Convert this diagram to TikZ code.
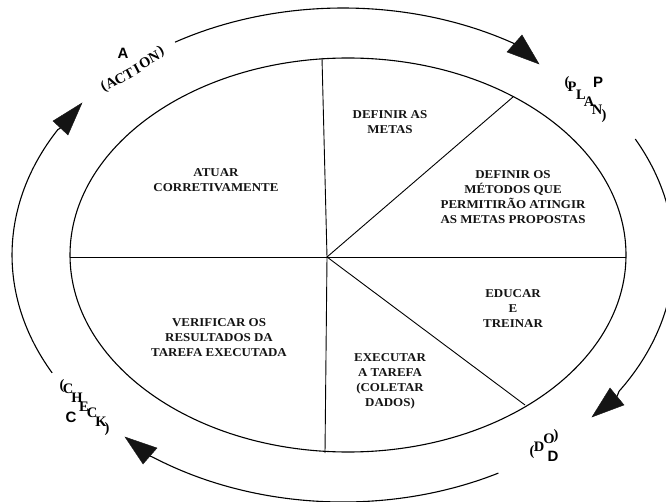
\documentclass[tikz,border=0pt]{standalone}
\usepackage{fontspec}
\setmainfont{Liberation Serif}
\setsansfont{Liberation Sans}
\newfontfamily\stagefont{Liberation Serif}[FakeStretch=1.08]
\usetikzlibrary{arrows.meta,calc}

\tikzset{
  wheel/.style={line width=1.1pt},
  spoke/.style={line width=0.9pt},
  cycleline/.style={line width=1.1pt},
  arrowhead/.style={fill=black!92, draw=black!92, line width=0.4pt, line join=miter},
  stage/.style={font=\stagefont\bfseries\fontsize{12}{15}\selectfont,
    align=center, inner sep=0pt, text=black!92},
  glyph/.style={font=\bfseries\fontsize{14.5}{14.5}\selectfont, inner sep=0pt},
  initial/.style={font=\sffamily\bfseries\fontsize{15}{15}\selectfont, inner sep=0pt},
}

\begin{document}
\begin{tikzpicture}[x=1pt,y=-1pt]
\useasboundingbox (0,0) rectangle (666,502);
\clip (0,0) rectangle (666,502);

% the wheel and its spokes
\draw[wheel] (348,255) ellipse [x radius=278, y radius=197];
\coordinate (hub) at (327,257);
\coordinate (top) at (322,58);
\coordinate (bottom) at (325,453);
\coordinate (left) at (70,257);
\coordinate (right) at (626,257);
\coordinate (upright) at (513,97);
\coordinate (lowright) at (525,405);
\draw[spoke] (left) -- (right);
\draw[spoke] (top) -- (hub) -- (bottom);
\draw[spoke] (hub) -- (upright);
\draw[spoke] (hub) -- (lowright);

% the four cycle arrows around the wheel
\coordinate (o) at (343,255);
\coordinate (p1) at ([shift={(-120.5:331 and 247)}]o);
\coordinate (p2) at ([shift={(-28:331 and 247)}]o);
\coordinate (p3) at ([shift={(62:331 and 247)}]o);
\coordinate (p4) at ([shift={(151.5:331 and 247)}]o);
% arrowhead corners: two base corners and the tip
\coordinate (h1a) at (507,52);  \coordinate (h1b) at (522,35);  \coordinate (h1t) at (539,64);
\coordinate (h2a) at (610,388); \coordinate (h2b) at (624,405); \coordinate (h2t) at (592,417);
\coordinate (h3a) at (157,448); \coordinate (h3b) at (143,464); \coordinate (h3t) at (125,437);
\coordinate (h4a) at (53,121);  \coordinate (h4b) at (68,135);  \coordinate (h4t) at (82,103);

\draw[cycleline] (p1) arc[start angle=-120.5, end angle=-59, x radius=331, y radius=247]
  -- ($ (h1a)!0.5!(h1b) $);
\draw[cycleline] (p2) arc[start angle=-28, end angle=33.5, x radius=331, y radius=247]
  -- ($ (h2a)!0.5!(h2b) $);
\draw[cycleline] (p3) arc[start angle=62, end angle=125, x radius=331, y radius=247]
  -- ($ (h3a)!0.5!(h3b) $);
\draw[cycleline] (p4) arc[start angle=151.5, end angle=210.5, x radius=331, y radius=247]
  -- ($ (h4a)!0.5!(h4b) $);
\filldraw[arrowhead] (h1a) -- (h1b) -- (h1t) -- cycle;
\filldraw[arrowhead] (h2a) -- (h2b) -- (h2t) -- cycle;
\filldraw[arrowhead] (h3a) -- (h3b) -- (h3t) -- cycle;
\filldraw[arrowhead] (h4a) -- (h4b) -- (h4t) -- cycle;

% sector texts
\node[stage] (atuar) at (216,180) {ATUAR\\CORRETIVAMENTE};
\node[stage] (metas) at (390,122) {DEFINIR AS\\METAS};
\node[stage] (metodos) at (513,197) {DEFINIR OS\\MÉTODOS QUE\\PERMITIRÃO ATINGIR\\AS METAS PROPOSTAS};
\node[stage] (educar) at (513,309) {EDUCAR\\E\\TREINAR};
\node[stage] (executar) at (390,381) {EXECUTAR\\A TAREFA\\(COLETAR\\DADOS)};
\node[stage] (verificar) at (219,338) {VERIFICAR OS\\RESULTADOS DA\\TAREFA EXECUTADA};

% A (ACTION)
\node[initial] (bigA) at (123,53) {A};
\begin{scope}[every node/.style={glyph, rotate=28}]
\node (ac0) at (104,87) {(};
\node (ac1) at (111,83) {A};
\node (ac2) at (120,79) {C};
\node (ac3) at (129,74) {T};
\node (ac4) at (137,69) {I};
\node (ac5) at (145,63) {O};
\node (ac6) at (154,57) {N};
\node (ac7) at (161,51) {)};
\end{scope}

% P (PLAN)
\node[initial] (bigP) at (598,82) {P};
\node[glyph] (pl0) at (567,83) {(};
\node[glyph] (pl1) at (572,87) {P};
\node[glyph] (pl2) at (581,95) {L};
\node[glyph] (pl3) at (589,102) {A};
\node[glyph] (pl4) at (597,110) {N};
\node[glyph] (pl5) at (604,116) {)};

% D (DO)
\node[initial] (bigD) at (553,456) {D};
\node[glyph] (do0) at (532,452) {(};
\node[glyph] (do1) at (539,447) {D};
\node[glyph] (do2) at (549,439) {O};
\node[glyph] (do3) at (556,436) {)};

% C (CHECK)
\node[initial] (bigC) at (71,417) {C};
\node[glyph] (ch0) at (62,386) {(};
\node[glyph] (ch1) at (68,389) {C};
\node[glyph] (ch2) at (77,398) {H};
\node[glyph] (ch3) at (84,407) {E};
\node[glyph] (ch4) at (92,413) {C};
\node[glyph] (ch5) at (101,422) {K};
\node[glyph] (ch6) at (107,429) {)};
\end{tikzpicture}
\end{document}
